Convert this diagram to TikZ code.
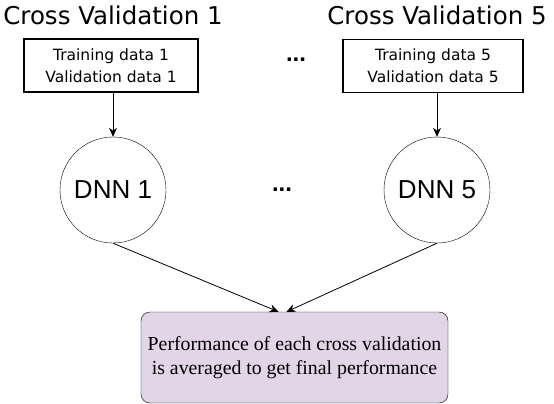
\documentclass[tikz,border=0pt]{standalone}
\usepackage{fontspec}
\setmainfont{Liberation Serif}
\newfontfamily\cvfont{DejaVu Sans}
\newfontfamily\dnnfont{Liberation Sans}
\definecolor{avgpurple}{HTML}{E1D5E7}
\usepackage{tikz}
\usetikzlibrary{arrows.meta, positioning, calc}

\begin{document}
\begin{tikzpicture}[
  x=1pt, y=-1pt,
  cvtitle/.style={font=\cvfont\fontsize{24.5}{28}\selectfont, inner sep=0pt},
  databox/.style={draw, line width=1.4pt, minimum height=53pt, align=center,
    font=\cvfont\fontsize{15.5}{22}\selectfont, inner sep=2pt},
  dnn/.style={draw, circle, minimum size=106pt, inner sep=0pt,
    font=\dnnfont\fontsize{26}{30}\selectfont},
  avgbox/.style={draw, rounded corners=9pt, fill=avgpurple, minimum width=307pt,
    minimum height=91pt, align=center, font=\fontsize{19.8}{24}\selectfont},
  dots/.style={font=\dnnfont\bfseries\fontsize{24}{26}\selectfont},
  link/.style={-{Stealth[length=9pt, width=8pt]}, line width=0.8pt}
]
  \useasboundingbox (0,0) rectangle (554,404);

  % Cross validation 1
  \node[cvtitle] (cv1) at (113, 15) {Cross Validation 1};
  \node[databox, minimum width=174pt] (t1) at (111, 65.5) {Training data 1\\Validation data 1};
  \node[dnn] (d1) at (113, 190) {DNN 1};

  % Cross validation 5
  \node[cvtitle] (cv5) at (437, 15) {Cross Validation 5};
  \node[databox, minimum width=180pt] (t5) at (433, 66) {Training data 5\\Validation data 5};
  \node[dnn] (d5) at (437, 190) {DNN 5};

  % Skipped folds
  \node[dots] (dt) at (296, 60) {...};
  \node[dots] (dm) at (282, 190) {...};

  % Averaging
  \node[avgbox] (avg) at (294.5, 357.5) {Performance of each cross validation\\is averaged to get final performance};

  \draw[link] (t1.south -| d1.north) -- (d1.north);
  \draw[link] (t5.south -| d5.north) -- (d5.north);
  \draw[link] (d1.south) -- ($(avg.north)+(-16,0)$);
  \draw[link] (d5.south) -- ($(avg.north)+(-8,0)$);
\end{tikzpicture}
\end{document}
